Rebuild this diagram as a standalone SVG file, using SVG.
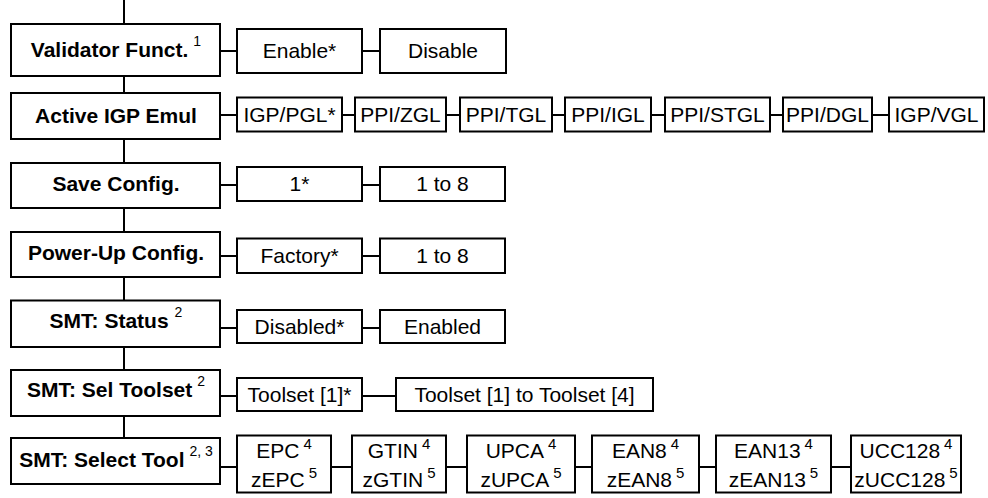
<svg xmlns="http://www.w3.org/2000/svg" width="988" height="498" viewBox="0 0 988 498">
<style>
.box{fill:#fff;stroke:#000;stroke-width:2}
.lbl{font-family:"Liberation Sans",Arial,sans-serif;font-size:21px;font-weight:bold;fill:#000;text-anchor:middle}
.opt{font-family:"Liberation Sans",Arial,sans-serif;font-size:21px;fill:#000;text-anchor:middle}
.sup{font-size:14px;font-weight:normal}
.sup2{font-size:15px}
.wire{fill:none;stroke:#000;stroke-width:2}
</style>
<rect width="988" height="498" fill="#fff"/>
<g id="connectors">
<path class="wire" d="M124,0V24M124,76V93M124,139V163M124,208V232M124,277V300M124,347V370M124,416V438"/>
<path class="wire" d="M221,51H237M362,51H380"/>
<path class="wire" d="M221,115H237M342,115H355M446,115H460M552,115H565M651,115H665M770,115H783M872,115H889"/>
<path class="wire" d="M221,185H237M362,185H380"/>
<path class="wire" d="M221,256H237M362,256H380"/>
<path class="wire" d="M221,328H237M362,328H380"/>
<path class="wire" d="M221,396H237M362,396H396"/>
<path class="wire" d="M221,467H237M331,467H352M446,467H467M575,467H592M699,467H716M831,467H851"/>
</g>
<g id="validator"><rect class="box" x="11" y="24" width="209" height="52"/><text class="lbl" x="116" y="57">Validator Funct.<tspan class="sup" dx="5" dy="-11">1</tspan></text></g>
<g id="enable"><rect class="box" x="237" y="29" width="125" height="44"/><text class="opt" x="299.5" y="58">Enable*</text></g>
<g id="disable"><rect class="box" x="380" y="29" width="126" height="44"/><text class="opt" x="443" y="58">Disable</text></g>

<g id="active"><rect class="box" x="11" y="93" width="209" height="46"/><text class="lbl" x="116" y="123">Active IGP Emul</text></g>
<g id="igppgl"><rect class="box" x="237" y="97.5" width="105" height="34"/><text class="opt" x="289.5" y="122">IGP/PGL*</text></g>
<g id="ppizgl"><rect class="box" x="355" y="97.5" width="91" height="34"/><text class="opt" x="400.5" y="122">PPI/ZGL</text></g>
<g id="ppitgl"><rect class="box" x="460" y="97.5" width="92" height="34"/><text class="opt" x="506" y="122">PPI/TGL</text></g>
<g id="ppiigl"><rect class="box" x="565" y="97.5" width="86" height="34"/><text class="opt" x="608" y="122">PPI/IGL</text></g>
<g id="ppistgl"><rect class="box" x="665" y="97.5" width="105" height="34"/><text class="opt" x="717.5" y="122">PPI/STGL</text></g>
<g id="ppidgl"><rect class="box" x="783" y="97.5" width="89" height="34"/><text class="opt" x="827.5" y="122">PPI/DGL</text></g>
<g id="igpvgl"><rect class="box" x="889" y="97.5" width="95" height="34"/><text class="opt" x="936.5" y="122">IGP/VGL</text></g>

<g id="save"><rect class="box" x="11" y="163" width="209" height="45"/><text class="lbl" x="116" y="191">Save Config.</text></g>
<g id="save1"><rect class="box" x="237" y="167" width="125" height="34"/><text class="opt" x="299.5" y="191">1*</text></g>
<g id="save18"><rect class="box" x="380" y="167" width="125" height="34"/><text class="opt" x="442.5" y="191">1 to 8</text></g>

<g id="power"><rect class="box" x="11" y="232" width="209" height="45"/><text class="lbl" x="116" y="260">Power-Up Config.</text></g>
<g id="factory"><rect class="box" x="237" y="238.5" width="125" height="34.5"/><text class="opt" x="299.5" y="263">Factory*</text></g>
<g id="power18"><rect class="box" x="380" y="238.5" width="125" height="34.5"/><text class="opt" x="442.5" y="263">1 to 8</text></g>

<g id="status"><rect class="box" x="11" y="300.5" width="209" height="46.5"/><text class="lbl" x="116" y="328">SMT: Status<tspan class="sup" dx="6" dy="-11">2</tspan></text></g>
<g id="disabled"><rect class="box" x="237" y="310" width="125" height="33"/><text class="opt" x="299.5" y="334">Disabled*</text></g>
<g id="enabled"><rect class="box" x="380" y="310" width="125" height="33"/><text class="opt" x="442.5" y="334">Enabled</text></g>

<g id="seltoolset"><rect class="box" x="11" y="370" width="209" height="46"/><text class="lbl" x="116" y="397">SMT: Sel Toolset<tspan class="sup" dx="5" dy="-11">2</tspan></text></g>
<g id="toolset1"><rect class="box" x="237" y="378" width="125" height="33"/><text class="opt" x="299.5" y="402">Toolset [1]*</text></g>
<g id="toolset14"><rect class="box" x="396" y="378" width="257" height="33"/><text class="opt" x="524.5" y="402">Toolset [1] to Toolset [4]</text></g>

<g id="selecttool"><rect class="box" x="11" y="438" width="209" height="46"/><text class="lbl" x="116" y="467">SMT: Select Tool<tspan class="sup" dx="5" dy="-11">2, 3</tspan></text></g>
<g id="epc"><rect class="box" x="237" y="435.5" width="94" height="57"/><text class="opt" x="284" y="458">EPC<tspan class="sup sup2" dx="4" dy="-9">4</tspan></text><text class="opt" x="284" y="487">zEPC<tspan class="sup sup2" dx="4" dy="-9">5</tspan></text></g>
<g id="gtin"><rect class="box" x="352" y="435.5" width="94" height="57"/><text class="opt" x="399" y="458">GTIN<tspan class="sup sup2" dx="4" dy="-9">4</tspan></text><text class="opt" x="399" y="487">zGTIN<tspan class="sup sup2" dx="4" dy="-9">5</tspan></text></g>
<g id="upca"><rect class="box" x="467" y="435.5" width="108" height="57"/><text class="opt" x="521" y="458">UPCA<tspan class="sup sup2" dx="4" dy="-9">4</tspan></text><text class="opt" x="521" y="487">zUPCA<tspan class="sup sup2" dx="4" dy="-9">5</tspan></text></g>
<g id="ean8"><rect class="box" x="592" y="435.5" width="107" height="57"/><text class="opt" x="645.5" y="458">EAN8<tspan class="sup sup2" dx="4" dy="-9">4</tspan></text><text class="opt" x="645.5" y="487">zEAN8<tspan class="sup sup2" dx="4" dy="-9">5</tspan></text></g>
<g id="ean13"><rect class="box" x="716" y="435.5" width="115" height="57"/><text class="opt" x="773.5" y="458">EAN13<tspan class="sup sup2" dx="4" dy="-9">4</tspan></text><text class="opt" x="773.5" y="487">zEAN13<tspan class="sup sup2" dx="4" dy="-9">5</tspan></text></g>
<g id="ucc128"><rect class="box" x="851" y="435.5" width="110" height="57"/><text class="opt" x="906" y="458">UCC128<tspan class="sup sup2" dx="4" dy="-9">4</tspan></text><text class="opt" x="906" y="487">zUCC128<tspan class="sup sup2" dx="4" dy="-9">5</tspan></text></g>
</svg>
